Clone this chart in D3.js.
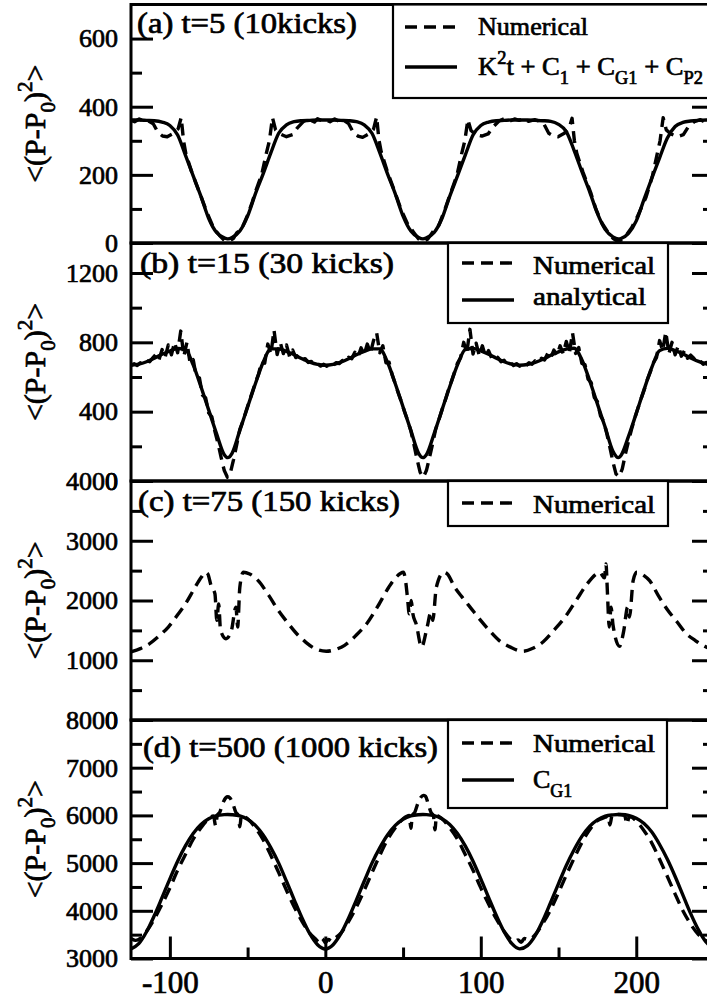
<!DOCTYPE html>
<html>
<head>
<meta charset="utf-8">
<script src="https://cdn.jsdelivr.net/npm/d3@7"></script>
<style>
  body { margin: 0; background: #fff; }
  svg { display: block; }
  text { font-family: "Liberation Serif", "Times New Roman", serif; fill: #000; stroke: #000; stroke-width: 0.7px; white-space: pre; }
</style>
</head>
<body>
<svg id="chart" width="707" height="1000"></svg>
<script>
// ---- data ----
const xDomain = [-125, 250];
const xTicks = [-100, 0, 100, 200];
const xMinor = [-50, 50, 150];

const ticksA = [0, 200, 400, 600], minorA = [100, 300, 500];
const ticksB = [0, 400, 800, 1200], minorB = [200, 600, 1000];
const ticksC = [0, 1000, 2000, 3000, 4000], minorC = [500, 1500, 2500, 3500];
const ticksD = [3000, 4000, 5000, 6000, 7000, 8000], minorD = [3500, 4500, 5500, 6500, 7500];

// (a) t=5
const solidA = [[-125,361],[-120,361],[-115,360],[-110,359],[-105,355],[-100,345],[-95,317],[-90,258],[-85,197],[-80,137],[-75,72],[-70,31],[-65,15],[-62.8,12],[-60,16],[-55,35],[-50,79],[-45,144],[-40,203],[-35,265],[-30,322],[-25,347],[-20,356],[-15,359],[-10,360],[-5,361],[0,361],[5,361],[10,360],[15,359],[20,356],[25,347],[30,322],[35,265],[40,203],[45,144],[50,79],[55,35],[60,16],[62.8,12],[65,15],[70,31],[75,72],[80,137],[85,197],[90,258],[95,317],[100,345],[105,355],[110,359],[115,360],[120,361],[125,361],[130,361],[135,360],[140,359],[145,357],[150,348],[155,327],[160,272],[165,210],[170,151],[175,87],[180,40],[185,18],[188.5,12],[190,13],[195,28],[200,65],[205,128],[210,190],[215,250],[220,308],[225,342],[230,354],[235,358],[240,360],[245,361],[250,361]];
const numA = [[-125,360],[-122.7,356],[-119.7,364],[-116.7,358],[-113.7,358],[-110.7,350],[-107.7,325],[-104.7,314],[-101.7,312],[-97.7,322],[-94.7,335],[-92.7,368],[-91.2,300],[-89.7,262],[-85.7,205],[-80.7,145],[-76,88],[-72,45],[-68,22],[-65,8],[-62,5],[-59,14],[-57,30],[-54,40],[-50,82],[-47,120],[-45,150],[-41,200],[-38,262],[-36,300],[-34,368],[-32,332],[-29,320],[-25,312],[-21,318],[-18,338],[-14,357],[-10,362],[-7,355],[-5,365],[-2,358],[0,362],[3,356],[6,364],[9,357],[12,360],[15,350],[18,324],[21,314],[24,310],[28,320],[31,334],[33,370],[34.5,302],[36,266],[40,208],[45,146],[49,95],[53,55],[57,30],[60,12],[63,5],[66,12],[69,32],[73,52],[77,100],[80.7,148],[84.7,200],[87.7,262],[89.7,300],[91.7,362],[93.7,330],[96.7,318],[100.7,314],[104.7,320],[107.7,340],[111.7,358],[115.7,366],[118.7,358],[121.7,364],[124.7,360],[127.7,366],[130.7,357],[134.7,362],[137.7,358],[140.7,348],[143.7,322],[146.7,314],[149.7,312],[153.7,322],[156.7,336],[158.7,366],[160.2,300],[161.7,264],[165.7,208],[170.7,148],[174,100],[178,58],[182,30],[185,14],[188,5],[191,10],[194,26],[197,45],[201,80],[206.3,135],[210.3,195],[213.3,258],[215.3,300],[217.3,368],[219.3,332],[222.3,320],[226.3,312],[230.3,318],[233.3,340],[237.3,356],[241.3,362],[244.3,355],[247.3,364],[250,360]];

// (b) t=15
const solidB = [[-125,668],[-120,674],[-115,688],[-110,708],[-105,731],[-100,750],[-95,764],[-90,758],[-85,670],[-80,544],[-75,409],[-70,274],[-65,152],[-62.8,135],[-60,160],[-55,292],[-50,427],[-45,561],[-40,685],[-35,762],[-30,762],[-25,748],[-20,728],[-15,705],[-10,686],[-5,673],[0,668],[5,673],[10,686],[15,705],[20,728],[25,748],[30,762],[35,762],[40,685],[45,561],[50,427],[55,292],[60,160],[62.8,135],[65,152],[70,274],[75,409],[80,544],[85,670],[90,758],[95,764],[100,750],[105,731],[110,708],[115,688],[120,674],[125,668],[130,672],[135,684],[140,702],[145,725],[150,745],[155,761],[160,766],[165,700],[170,580],[175,445],[180,310],[185,172],[188.5,135],[190,145],[195,257],[200,390],[205,527],[210,655],[215,752],[220,765],[225,752],[230,733],[235,710],[240,690],[245,676],[250,668]];
const numBStart = -125, numBStep = 2;
const numB = [
  668, 676, 666, 682, 676, 694, 688, 710,
  730, 700, 758, 715, 785, 728, 800, 740, 865, 720, 800, 680,
  700, 600, 595, 495, 480, 392, 370, 285, 215, 135, 60,
  22, 50, 125, 210, 298,
  345, 402, 458, 512, 568, 615,
  690, 680, 790, 735, 870, 730, 800, 735, 785, 718, 755, 712,
  726, 698, 706, 684, 690, 670, 678, 663, 673, 662, 675, 666, 683, 677, 696, 690, 714, 706,
  742, 715, 768, 730, 790, 738, 810, 855, 740, 780, 682, 685,
  612, 560, 505, 455, 398, 348,
  290, 210, 125, 50, 22, 60, 135, 215, 300,
  352, 410, 462, 520, 572, 625, 680,
  710, 800, 738, 875, 732, 795, 722, 780, 718, 752, 708, 726,
  712, 688, 696, 676, 683, 666, 677, 662, 675, 665, 682, 674, 694, 686, 708,
  698, 735, 710, 755, 725, 780, 735, 805, 740, 855, 735, 770,
  678, 672, 588, 568, 482, 458, 375, 345,
  275, 195, 110, 40, 25, 70, 155, 230, 300,
  362, 418, 472, 522, 582, 628, 682, 712,
  810, 752, 860, 735, 800, 728, 780, 720, 752, 708, 726,
  708, 686, 694, 674, 684, 666, 674
];

// (c) t=75
const numC = [[-125,1140],[-119,1195],[-113,1278],[-107,1405],[-101,1556],[-95,1760],[-89.3,1972],[-84.5,2190],[-79.8,2389],[-77.3,2472],[-75.6,2444],[-73.5,2250],[-71,2111],[-69.8,1667],[-68.6,1944],[-67.4,1500],[-63.9,1361],[-60.4,1500],[-57.5,1889],[-56.4,1556],[-55,2222],[-52.7,2472],[-48.7,2444],[-43.2,2333],[-36.5,2090],[-30.2,1833],[-24,1620],[-18.4,1444],[-12.5,1300],[-6.6,1194],[0.6,1150],[6.5,1180],[12.4,1250],[19.5,1410],[26.6,1611],[33.7,1900],[40.8,2222],[45.5,2389],[50.2,2472],[51.6,2333],[52.8,2056],[54,1778],[55.2,2000],[56.3,1778],[58.5,1600],[61.9,1222],[65.5,1556],[67.9,1806],[69.1,1667],[71.4,2222],[76.2,2472],[78.5,2444],[83.2,2222],[88,2056],[94,1860],[99.9,1667],[105.8,1490],[111.7,1333],[119,1220],[127,1150],[133.5,1200],[140,1306],[147,1500],[154.2,1722],[161.3,2000],[168.4,2278],[174.3,2444],[176.5,2472],[179.5,2380],[180.5,2611],[181.5,2100],[182.6,1556],[183.8,1889],[185,1600],[189.2,1233],[192,1500],[194.4,1889],[195.6,1722],[198,2333],[200.3,2472],[205,2417],[208.6,2333],[214,2090],[220.4,1833],[226.3,1640],[232.2,1444],[238,1330],[244,1233],[250,1170]];

// (d) t=500
const solidD = [[-125,3202],[-120,3310],[-115,3560],[-110,3900],[-105,4280],[-100,4670],[-95,5040],[-90,5360],[-85,5620],[-80,5810],[-75,5930],[-70,5995],[-65,6017],[-62.8,6020],[-60,6015],[-55,5990],[-50,5920],[-45,5790],[-40,5590],[-35,5320],[-30,5000],[-25,4620],[-20,4230],[-15,3850],[-10,3520],[-5,3290],[0,3200],[5,3290],[10,3520],[15,3850],[20,4230],[25,4620],[30,5000],[35,5320],[40,5590],[45,5790],[50,5920],[55,5990],[60,6015],[62.8,6020],[65,6017],[70,5995],[75,5930],[80,5810],[85,5620],[90,5360],[95,5040],[100,4670],[105,4280],[110,3900],[115,3560],[120,3310],[125,3202],[130,3270],[135,3480],[140,3800],[145,4180],[150,4570],[155,4950],[160,5280],[165,5560],[170,5770],[175,5905],[180,5985],[185,6012],[188.5,6020],[190,6018],[195,6000],[200,5940],[205,5830],[210,5650],[215,5390],[220,5080],[225,4720],[230,4330],[235,3940],[240,3600],[245,3340],[250,3205]];
const numD = [[-125,3420],[-122,3380],[-119,3420],[-115,3570],[-110,3830],[-105,4140],[-100,4480],[-95,4850],[-90,5180],[-85,5500],[-80,5740],[-76,5900],[-72,5990],[-70.5,5780],[-69.5,6000],[-68,6060],[-66,6250],[-64,6370],[-62.8,6390],[-61.5,6370],[-59.5,6250],[-57.5,6060],[-56,6000],[-55,5760],[-54,6000],[-50,5930],[-45,5740],[-40,5490],[-35,5160],[-30,4800],[-25,4430],[-20,4080],[-15,3780],[-10,3530],[-6,3400],[-4,3340],[-2,3420],[0,3330],[2,3400],[4,3360],[6,3420],[10,3530],[15,3780],[20,4080],[25,4430],[30,4800],[35,5160],[40,5490],[45,5740],[50,5930],[54,6000],[55,5730],[56,6000],[57.5,6060],[59.5,6250],[61.5,6380],[63,6420],[64.5,6400],[66,6260],[68,6060],[69.5,6000],[70.5,5700],[71.5,6000],[75,5930],[80,5740],[85,5500],[90,5180],[95,4850],[100,4480],[105,4140],[110,3830],[115,3570],[119,3410],[122,3360],[124,3390],[126,3340],[128,3420],[131,3400],[135,3500],[140,3740],[145,4030],[150,4380],[155,4750],[160,5100],[165,5430],[170,5700],[175,5890],[180,5960],[182,5990],[183,5800],[184.5,6000],[188.5,6020],[192.5,6000],[194,5820],[195.5,5980],[200,5880],[205,5680],[210,5420],[215,5080],[220,4720],[225,4350],[230,4000],[235,3720],[240,3500],[245,3370],[250,3330]];

// ---- layout ----
const svg = d3.select("#chart");
const L = 131, R = 714;
const x = d3.scaleLinear().domain(xDomain).range([L, R]);
const DASH = "12,7";
const LW = 3.4;

const numBPairs = numB.map((v, i) => [numBStart + i * numBStep, v]);

const panels = [
  { id: "a", top: 4.5, bottom: 243, domain: [0, 700], major: ticksA, minor: minorA,
    title: "(a) t=5 (10kicks)", titleX: 137, titleY: 33, titleW: 220,
    series: [{ data: numA, dash: true, curve: d3.curveLinear }, { data: solidA, curve: d3.curveMonotoneX }] },
  { id: "b", top: 243, bottom: 481, domain: [0, 1373], major: ticksB, minor: minorB,
    title: "(b) t=15 (30 kicks)", titleX: 140, titleY: 273, titleW: 254,
    series: [{ data: numBPairs, dash: true, curve: d3.curveLinear }, { data: solidB, curve: d3.curveMonotoneX }] },
  { id: "c", top: 481, bottom: 720, domain: [0, 4000], major: ticksC, minor: minorC,
    title: "(c) t=75 (150 kicks)", titleX: 138, titleY: 511, titleW: 262,
    series: [{ data: numC, dash: true, curve: d3.curveMonotoneX }] },
  { id: "d", top: 720, bottom: 958.5, domain: [3000, 8000], major: ticksD, minor: minorD,
    title: "(d) t=500 (1000 kicks)", titleX: 143, titleY: 757, titleW: 295,
    series: [{ data: numD, dash: true, curve: d3.curveMonotoneX }, { data: solidD, curve: d3.curveMonotoneX }] }
];

const legends = {
  a: { x: 393, y: 4.5, w: 330, h: 93.5, lx: 405, tx: 478,
       items: [{ dash: true, ly: 27, ty: 35, w: 110, parts: [{ t: "Numerical" }] },
               { dash: false, ly: 67, ty: 75, w: 225, parts: [{ t: "K" }, { t: "2", sup: true }, { t: "t + C" }, { t: "1", sub: true }, { t: " + C" }, { t: "G1", sub: true }, { t: " + C" }, { t: "P2", sub: true }] }] },
  b: { x: 448, y: 243, w: 220, h: 80, lx: 462, tx: 533,
       items: [{ dash: true, ly: 263, ty: 274, w: 122, parts: [{ t: "Numerical" }] },
               { dash: false, ly: 300, ty: 305, w: 113, parts: [{ t: "analytical" }] }] },
  c: { x: 448, y: 481, w: 220, h: 45, lx: 462, tx: 533,
       items: [{ dash: true, ly: 503, ty: 513, w: 122, parts: [{ t: "Numerical" }] }] },
  d: { x: 448, y: 720, w: 219, h: 88, lx: 462, tx: 533,
       items: [{ dash: true, ly: 743, ty: 752, w: 122, parts: [{ t: "Numerical" }] },
               { dash: false, ly: 780, ty: 788, w: null, parts: [{ t: "C" }, { t: "G1", sub: true }] }] }
};

function rich(sel, parts, base, small) {
  let off = 0;
  parts.forEach(pt => {
    const target = pt.sup ? -base * 0.42 : pt.sub ? base * 0.34 : 0;
    sel.append("tspan")
      .attr("dy", target - off)
      .attr("font-size", (pt.sup || pt.sub) ? small : base)
      .text(pt.t);
    off = target;
  });
}

function styleAxis(g, size) {
  g.select(".domain").remove();
  g.attr("font-family", null);
  g.selectAll(".tick line").attr("stroke", "#000").attr("stroke-width", 3);
  g.selectAll(".tick text").attr("font-size", size);
}

panels.forEach(p => {
  const y = d3.scaleLinear().domain(p.domain).range([p.bottom, p.top]);
  const g = svg.append("g").attr("class", "panel-" + p.id);

  svg.append("clipPath").attr("id", "clip-" + p.id)
    .append("rect").attr("x", L).attr("y", p.top).attr("width", R - L).attr("height", p.bottom - p.top);

  p.series.forEach(s => {
    const line = d3.line().x(d => x(d[0])).y(d => y(d[1])).curve(s.curve);
    g.append("path")
      .datum(s.data)
      .attr("clip-path", "url(#clip-" + p.id + ")")
      .attr("d", line)
      .attr("fill", "none")
      .attr("stroke", "#000")
      .attr("stroke-width", LW)
      .attr("stroke-linejoin", "round")
      .attr("stroke-dasharray", s.dash ? DASH : null);
  });

  // left axis, inward ticks
  const ax = g.append("g").attr("transform", `translate(${L},0)`)
    .call(d3.axisLeft(y).tickValues(p.major).tickSize(-22).tickPadding(13).tickFormat(d => String(d)));
  styleAxis(ax, 26);
  const axm = g.append("g").attr("transform", `translate(${L},0)`)
    .call(d3.axisLeft(y).tickValues(p.minor).tickSize(-11).tickFormat(""));
  styleAxis(axm, 26);
  // right axis, inward ticks
  const ar = g.append("g").attr("transform", `translate(${R},0)`)
    .call(d3.axisRight(y).tickValues(p.major).tickSize(-22).tickFormat(""));
  styleAxis(ar, 26);
  const arm = g.append("g").attr("transform", `translate(${R},0)`)
    .call(d3.axisRight(y).tickValues(p.minor).tickSize(-11).tickFormat(""));
  styleAxis(arm, 26);

  // frame
  g.append("rect").attr("x", L).attr("y", p.top).attr("width", R - L).attr("height", p.bottom - p.top)
    .attr("fill", "none").attr("stroke", "#000").attr("stroke-width", 3);

  // panel title
  g.append("text").attr("x", p.titleX).attr("y", p.titleY).attr("font-size", 29)
    .attr("textLength", p.titleW).attr("lengthAdjust", "spacingAndGlyphs").text(p.title);

  // y label
  const cy = (p.top + p.bottom) / 2;
  const yl = g.append("text")
    .attr("transform", `translate(45,${cy}) rotate(-90)`)
    .attr("text-anchor", "middle")
    .attr("font-size", 30);
  rich(yl, [{ t: "<(P-P" }, { t: "0", sub: true }, { t: ")" }, { t: "2", sup: true }, { t: ">" }], 30, 21);

  // legend
  const lg = legends[p.id];
  const lgG = g.append("g");
  lgG.append("rect").attr("x", lg.x).attr("y", lg.y).attr("width", lg.w).attr("height", lg.h)
    .attr("fill", "#fff").attr("stroke", "#000").attr("stroke-width", 2.2);
  lg.items.forEach(it => {
    lgG.append("line").attr("x1", lg.lx).attr("x2", lg.lx + 52).attr("y1", it.ly).attr("y2", it.ly)
      .attr("stroke", "#000").attr("stroke-width", LW).attr("stroke-dasharray", it.dash ? DASH : null);
    const t = lgG.append("text").attr("x", lg.tx).attr("y", it.ty).attr("font-size", 26);
    if (it.w) t.attr("textLength", it.w).attr("lengthAdjust", "spacingAndGlyphs");
    rich(t, it.parts, 26, 18);
  });

  // bottom x axis only on the last panel
  if (p.id === "d") {
    const bx = g.append("g").attr("transform", `translate(0,${p.bottom})`)
      .call(d3.axisBottom(x).tickValues(xTicks).tickSize(-22).tickPadding(12).tickFormat(d => String(d)));
    styleAxis(bx, 31);
    const bxm = g.append("g").attr("transform", `translate(0,${p.bottom})`)
      .call(d3.axisBottom(x).tickValues(xMinor).tickSize(-11).tickFormat(""));
    styleAxis(bxm, 31);
  }
});
</script>
</body>
</html>
